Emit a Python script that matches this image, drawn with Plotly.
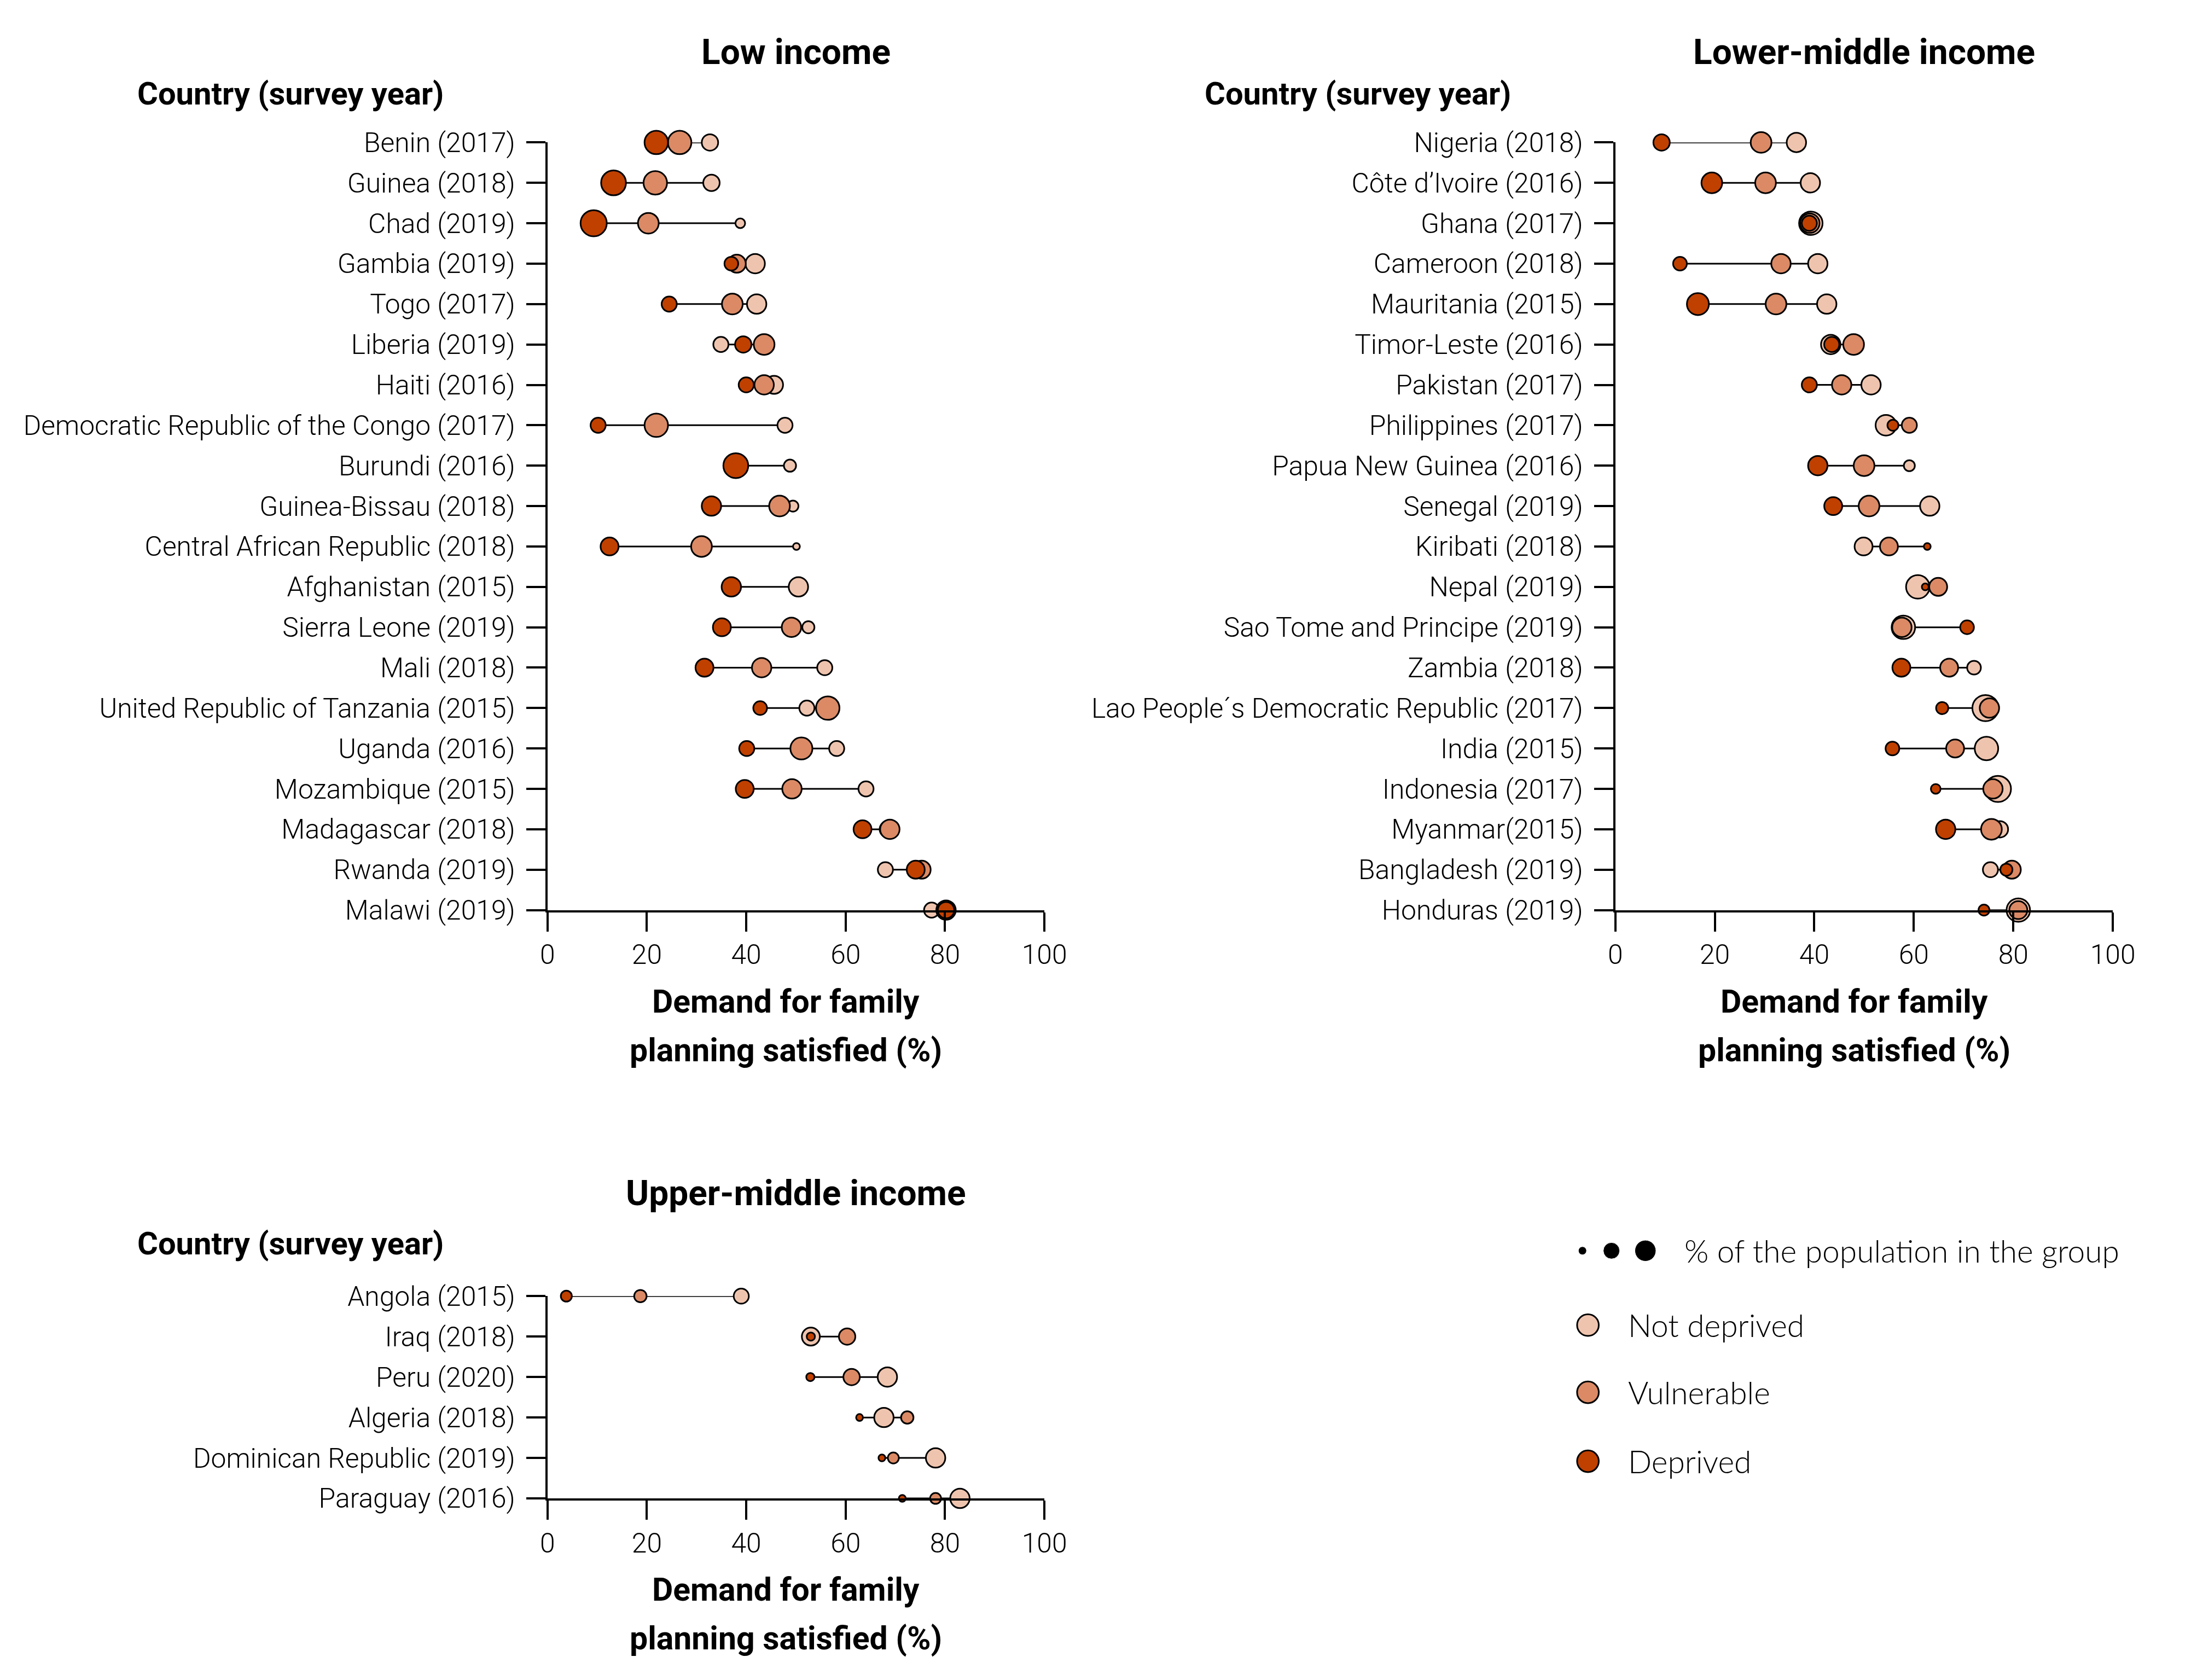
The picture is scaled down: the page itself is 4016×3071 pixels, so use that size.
import numpy as np
import plotly.graph_objects as go

W, H = 4016, 3071

# ---- data: demand for family planning satisfied (%) and % of population in each group
low_countries = [
    "Benin (2017)", "Guinea (2018)", "Chad (2019)", "Gambia (2019)", "Togo (2017)",
    "Liberia (2019)", "Haiti (2016)", "Democratic Republic of the Congo (2017)",
    "Burundi (2016)", "Guinea-Bissau (2018)", "Central African Republic (2018)",
    "Afghanistan (2015)", "Sierra Leone (2019)", "Mali (2018)",
    "United Republic of Tanzania (2015)", "Uganda (2016)", "Mozambique (2015)",
    "Madagascar (2018)", "Rwanda (2019)", "Malawi (2019)",
]
low_deprived = [21.9, 13.3, 9.3, 37.0, 24.5, 39.4, 40.0, 10.2, 37.9, 33.0,
                12.5, 37.0, 35.1, 31.6, 42.8, 40.1, 39.7, 63.4, 74.1, 80.2]
low_vulnerable = [26.6, 21.7, 20.3, 38.1, 37.2, 43.6, 43.6, 21.9, 38.0, 46.7,
                  31.0, 37.2, 49.1, 43.1, 56.4, 51.1, 49.2, 68.9, 75.3, 80.2]
low_not_deprived = [32.7, 33.0, 38.8, 41.8, 42.1, 34.9, 45.6, 47.8, 48.8, 49.4,
                    50.1, 50.5, 52.5, 55.8, 52.2, 58.2, 64.1, 68.5, 68.0, 77.3]
low_pop_deprived = [41, 46, 51, 14, 17, 20, 17, 17, 46, 28,
                    24, 28, 24, 24, 14, 17, 24, 24, 24, 20]
low_pop_vulnerable = [41, 41, 32, 24, 32, 32, 28, 41, 28, 32,
                      32, 20, 28, 28, 41, 36, 28, 28, 24, 28]
low_pop_not_deprived = [20, 20, 7, 28, 28, 17, 24, 17, 11, 9,
                        3.5, 28, 11, 17, 17, 17, 17, 20, 17, 17]

lmic_countries = [
    "Nigeria (2018)", "Côte d’Ivoire (2016)", "Ghana (2017)", "Cameroon (2018)",
    "Mauritania (2015)", "Timor-Leste (2016)", "Pakistan (2017)", "Philippines (2017)",
    "Papua New Guinea (2016)", "Senegal (2019)", "Kiribati (2018)", "Nepal (2019)",
    "Sao Tome and Principe (2019)", "Zambia (2018)",
    "Lao People´s Democratic Republic (2017)", "India (2015)", "Indonesia (2017)",
    "Myanmar(2015)", "Bangladesh (2019)", "Honduras (2019)",
]
lmic_deprived = [9.3, 19.4, 39.0, 13.0, 16.6, 43.5, 39.0, 55.8, 40.7, 43.8,
                 62.7, 62.3, 70.7, 57.5, 65.7, 55.7, 64.4, 66.4, 78.6, 74.1]
lmic_vulnerable = [29.3, 30.2, 39.1, 33.3, 32.3, 47.9, 45.5, 59.1, 50.0, 51.0,
                   55.0, 64.9, 57.6, 67.1, 75.2, 68.3, 75.9, 75.6, 79.7, 81.0]
lmic_not_deprived = [36.4, 39.2, 39.3, 40.7, 42.5, 43.3, 51.4, 54.4, 59.1, 63.2,
                     49.9, 60.8, 57.9, 72.1, 74.4, 74.6, 76.9, 77.3, 75.4, 81.0]
lmic_pop_deprived = [20, 32, 17, 14, 36, 17, 17, 9, 28, 24,
                     3.5, 3.5, 14, 24, 11, 14, 7, 28, 11, 9]
lmic_pop_vulnerable = [32, 32, 28, 28, 32, 32, 28, 17, 32, 32,
                       24, 24, 28, 24, 28, 24, 28, 32, 24, 24]
lmic_pop_not_deprived = [28, 28, 41, 28, 28, 28, 28, 32, 9, 28,
                         24, 41, 41, 14, 51, 41, 51, 20, 17, 41]

umic_countries = [
    "Angola (2015)", "Iraq (2018)", "Peru (2020)", "Algeria (2018)",
    "Dominican Republic (2019)", "Paraguay (2016)",
]
umic_deprived = [3.8, 53.0, 52.9, 62.8, 67.3, 71.4]
umic_vulnerable = [18.7, 60.3, 61.2, 72.4, 69.6, 78.1]
umic_not_deprived = [39.0, 53.0, 68.4, 67.7, 78.1, 83.0]
umic_pop_deprived = [9, 5, 5, 3.5, 3.5, 3.5]
umic_pop_vulnerable = [11.5, 20, 20, 11.5, 9, 9]
umic_pop_not_deprived = [17, 24, 28, 28, 28, 28]

x_ticks = [0, 20, 40, 60, 80, 100]
legend_size_shares = [5, 20, 33]
group_names = ["Not deprived", "Vulnerable", "Deprived"]

# ---- style
COLORS = {"Not deprived": "#EFC4AE", "Vulnerable": "#DB8A65", "Deprived": "#C04000"}
FONT = "Roboto, Liberation Sans, sans-serif"
LEGEND_FONT = "Lato, Open Sans, sans-serif"
K = 1.016  # small global scale used for the page layout


def tx(x):
    # layout x position (page px) -> paper fraction
    return (1.0144 * x - 14) / W


def ty(y):
    # layout y position (page px, from top) -> paper fraction
    return 1 - (1.0187 * y - 28) / H


def dot_size(share):
    return K * 6.6 * np.sqrt(np.asarray(share, dtype=float))


def note(text, x, y, size, xanchor="center", weight=700, family=FONT):
    return dict(text=text, x=tx(x), y=ty(y), xref="paper", yref="paper",
                xanchor=xanchor, yanchor="middle", showarrow=False,
                font=dict(family=family, size=size * K, color="black", weight=weight))


fig = go.Figure()

panels = [
    dict(ax="", title="Low income", countries=low_countries,
         values=[low_not_deprived, low_vulnerable, low_deprived],
         shares=[low_pop_not_deprived, low_pop_vulnerable, low_pop_deprived],
         x0=1000, x1=1908, y0=259, y1=1663, title_y=94, head_x=249, head_y=170),
    dict(ax="2", title="Lower-middle income", countries=lmic_countries,
         values=[lmic_not_deprived, lmic_vulnerable, lmic_deprived],
         shares=[lmic_pop_not_deprived, lmic_pop_vulnerable, lmic_pop_deprived],
         x0=2951, x1=3860, y0=259, y1=1663, title_y=94, head_x=2199, head_y=170),
    dict(ax="3", title="Upper-middle income", countries=umic_countries,
         values=[umic_not_deprived, umic_vulnerable, umic_deprived],
         shares=[umic_pop_not_deprived, umic_pop_vulnerable, umic_pop_deprived],
         x0=1000, x1=1908, y0=2369, y1=2739, title_y=2181, head_x=249, head_y=2273),
]

annotations = []
for p in panels:
    xa, ya = "x" + p["ax"], "y" + p["ax"]
    countries = p["countries"]
    # connector from lowest to highest group value
    lx, ly = [], []
    for i, c in enumerate(countries):
        vals = [v[i] for v in p["values"]]
        lx += [min(vals), max(vals), None]
        ly += [c, c, None]
    fig.add_trace(go.Scatter(x=lx, y=ly, mode="lines", xaxis=xa, yaxis=ya,
                             line=dict(color="black", width=3),
                             hoverinfo="skip", cliponaxis=False))
    for name, vals, shares in zip(group_names, p["values"], p["shares"]):
        fig.add_trace(go.Scatter(
            x=vals, y=countries, mode="markers", name=name, xaxis=xa, yaxis=ya,
            marker=dict(size=dot_size(shares), color=COLORS[name], opacity=1,
                        line=dict(color="black", width=3)),
            cliponaxis=False,
        ))

    n = len(countries)
    axis_common = dict(showline=True, linecolor="black", linewidth=4,
                       ticks="outside", ticklen=35, tickwidth=4, tickcolor="black",
                       showgrid=False, zeroline=False,
                       tickfont=dict(family=FONT, size=49 * K, color="black", weight=300))
    fig.update_layout({
        "xaxis" + p["ax"]: dict(axis_common, domain=[tx(p["x0"]), tx(p["x1"])],
                                anchor=ya, range=[0, 100], tickvals=x_ticks,
                                ticklabelstandoff=0),
        "yaxis" + p["ax"]: dict(axis_common, domain=[ty(p["y1"]), ty(p["y0"])],
                                anchor=xa, type="category", categoryorder="array",
                                categoryarray=countries, range=[n - 1, 0],
                                ticklabelstandoff=10),
    })

    cx = (p["x0"] + p["x1"]) / 2
    annotations.append(note(p["title"], cx, p["title_y"], 63))
    annotations.append(note("Country (survey year)", p["head_x"], p["head_y"], 57,
                            xanchor="left"))
    annotations.append(note("Demand for family", cx - 18, p["y1"] + 167, 58))
    annotations.append(note("planning satisfied (%)", cx - 18, p["y1"] + 256, 58))

# ---- legend drawn on a hidden full-page axis
lx_pos = [tx(v) for v in (2891, 2944, 3006)]
fig.add_trace(go.Scatter(
    x=lx_pos, y=[ty(2286)] * 3, mode="markers",
    xaxis="x4", yaxis="y4", hoverinfo="skip",
    marker=dict(size=dot_size(legend_size_shares), color="black", opacity=1),
))
legend_y = [2422, 2545, 2671]
fig.add_trace(go.Scatter(
    x=[tx(2901)] * 3, y=[ty(v) for v in legend_y], mode="markers",
    xaxis="x4", yaxis="y4", hoverinfo="skip",
    marker=dict(size=39 * K, color=[COLORS[g] for g in group_names], opacity=1,
                line=dict(color="black", width=3)),
))
annotations.append(note("% of the population in the group", 3075, 2286, 56,
                        xanchor="left", weight=300, family=LEGEND_FONT))
for g, yy in zip(group_names, legend_y):
    annotations.append(note(g, 2972, yy, 56, xanchor="left", weight=300,
                            family=LEGEND_FONT))

fig.update_layout(
    xaxis4=dict(domain=[0, 1], range=[0, 1], visible=False, fixedrange=True, anchor="y4"),
    yaxis4=dict(domain=[0, 1], range=[0, 1], visible=False, fixedrange=True, anchor="x4"),
    width=W, height=H, margin=dict(l=0, r=0, t=0, b=0),
    paper_bgcolor="white", plot_bgcolor="rgba(0,0,0,0)", showlegend=False,
    annotations=annotations,
    font=dict(family=FONT, color="black"),
)

# let the figure fill the page exactly (no default body margin / scrollbars)
fig.write_html("out.html", config={"displayModeBar": False},
               post_script="document.body.style.margin='0';"
                           "document.body.style.overflow='hidden';")
